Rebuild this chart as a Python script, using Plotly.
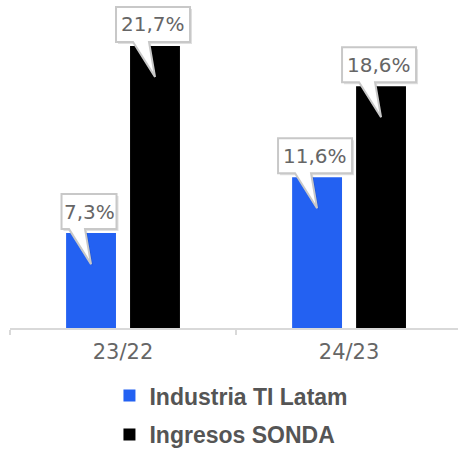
import plotly.graph_objects as go

# --- data ------------------------------------------------------------------
periods = ["23/22", "24/23"]
industria = [7.3, 11.6]
sonda = [21.7, 18.6]
series_names = ["Industria TI Latam", "Ingresos SONDA"]
series_colors = ["#2361F2", "#000000"]

W, H = 458, 451
M_L, M_R, M_T, M_B = 10, 0, 3, 123
X_RANGE = [-0.5, 1.482]
Y_RANGE = [0, 25]
BARGAP = 0.434
GROUPGAP = 0.22

plot_w = W - M_L - M_R
cat_px = plot_w / (X_RANGE[1] - X_RANGE[0])
slot_px = cat_px * (1 - BARGAP) / 2
bar_off = slot_px / 2  # px from category centre to bar centre


def fmt(v):
    return f"{v:.1f}".replace(".", ",") + "%"


fig = go.Figure()
for name, vals, col in zip(series_names, [industria, sonda], series_colors):
    fig.add_trace(go.Bar(
        x=periods, y=vals, name=f"<b>{name}</b>",
        marker=dict(color=col, line=dict(width=0)),
        legendgroup=name, hoverinfo="skip",
    ))

# --- callout bubbles ---------------------------------------------------------
shapes, annots = [], []
for si, vals in enumerate([industria, sonda]):
    dx0 = -bar_off if si == 0 else bar_off
    for cat, v in zip(periods, vals):
        label = fmt(v)
        bw = 19 * len(label) - 21
        bh = 35
        cx = dx0 - 2
        L, R = cx - bw / 2, cx + bw / 2
        B, T = 4, 4 + bh
        tail = [(dx0 - 22, B), (dx0, -31), (dx0 - 6, B)]
        pts = [(L, B)] + tail + [(R, B), (R, T), (L, T)]

        def path(off=(0, 0)):
            return "M" + " L".join(f"{x + off[0]:.1f},{y + off[1]:.1f}" for x, y in pts) + " Z"

        common = dict(type="path", xref="x", yref="y", xsizemode="pixel",
                      ysizemode="pixel", xanchor=cat, yanchor=v, layer="above")
        shapes.append(dict(common, path=path((2, -2)),
                           fillcolor="rgba(0,0,0,0.12)", line=dict(width=0)))
        shapes.append(dict(common, path=path(),
                           fillcolor="white", line=dict(color="#c8c8c8", width=2)))
        annots.append(dict(x=cat, y=v, xref="x", yref="y", text=label,
                           showarrow=False, xshift=cx, yshift=B + bh / 2,
                           font=dict(size=20, color="#666666", family="DejaVu Sans")))

fig.update_layout(
    width=W, height=H,
    margin=dict(l=M_L, r=M_R, t=M_T, b=M_B, autoexpand=False),
    paper_bgcolor="white", plot_bgcolor="white",
    barmode="group", bargap=BARGAP, bargroupgap=GROUPGAP,
    font=dict(family="DejaVu Sans", color="#666666"),
    shapes=shapes, annotations=annots,
    showlegend=True,
    legend=dict(
        orientation="v", x=0.222, y=-0.142, xanchor="left", yanchor="top",
        font=dict(size=23, color="#555555", family="Liberation Sans"),
        tracegroupgap=6, bgcolor="rgba(0,0,0,0)",
    ),
)
fig.update_xaxes(
    range=X_RANGE, showline=True, linecolor="#d9d9d9", linewidth=2,
    ticks="outside", tickson="boundaries", ticklen=5, tickwidth=2,
    tickcolor="#d9d9d9", showgrid=False, zeroline=False,
    ticklabelstandoff=4,
    tickfont=dict(size=21, color="#666666", family="DejaVu Sans"),
)
fig.update_yaxes(range=Y_RANGE, visible=False, showgrid=False, zeroline=False)

fig.write_html("out.html", config={"displayModeBar": False},
               post_script="document.body.style.margin='0px';")
